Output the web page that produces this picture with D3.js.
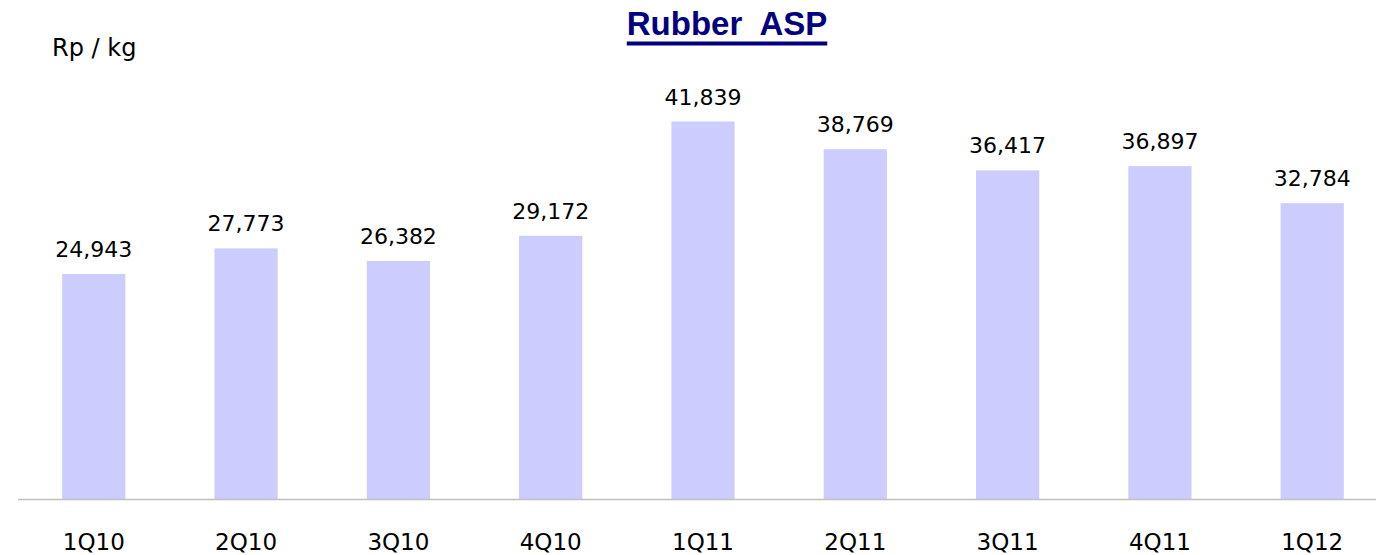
<!DOCTYPE html>
<html>
  <head>
    <script src="https://d3js.org/d3.v7.min.js"></script>
    <style>
      body { margin: 0; background: #fff; }
    </style>
  </head>
  <body>
    <svg width="1376" height="555"></svg>
  </body>
  <script>
    const quarters = ['1Q10', '2Q10', '3Q10', '4Q10', '1Q11', '2Q11', '3Q11', '4Q11', '1Q12'];
    const asp = [24943, 27773, 26382, 29172, 41839, 38769, 36417, 36897, 32784];

    const svg = d3.select('svg');
    const font = '"DejaVu Sans", sans-serif';

    const x = d3.scaleBand()
      .domain(quarters)
      .range([18, 1388])
      .paddingInner(0.585)
      .paddingOuter(0.29);

    const y = d3.scaleLinear()
      .domain([0, 45000])
      .range([499, 93]);

    // bars
    svg.selectAll('rect.bar').data(asp)
      .enter().append('rect')
        .attr('class', 'bar')
        .attr('x', (d, i) => x(quarters[i]))
        .attr('y', d => y(d))
        .attr('width', x.bandwidth())
        .attr('height', d => y(0) - y(d))
        .attr('fill', '#ccccff');

    // value labels
    svg.selectAll('text.val').data(asp)
      .enter().append('text')
        .attr('class', 'val')
        .attr('x', (d, i) => x(quarters[i]) + x.bandwidth() / 2)
        .attr('y', d => y(d) - 17)
        .attr('text-anchor', 'middle')
        .style('font-family', font)
        .style('font-size', '22px')
        .attr('fill', '#000')
        .text(d => d3.format(',')(d));

    // baseline
    svg.append('line')
      .attr('x1', 18).attr('x2', 1376)
      .attr('y1', y(0) + 0.5).attr('y2', y(0) + 0.5)
      .attr('stroke', '#c0c0c0')
      .attr('stroke-width', 1.5);

    // category labels
    const xAxis = d3.axisBottom(x).tickSize(0).tickPadding(0);
    const xg = svg.append('g')
      .attr('transform', `translate(0,${y(0)})`)
      .call(xAxis);
    xg.select('.domain').remove();
    xg.selectAll('text')
      .attr('dy', null)
      .attr('y', 51)
      .style('font-family', font)
      .style('font-size', '23px')
      .attr('fill', '#000');

    // title
    const title = svg.append('text')
      .attr('x', 727)
      .attr('y', 35)
      .attr('text-anchor', 'middle')
      .style('font-family', '"Liberation Sans", Arial, sans-serif')
      .style('font-size', '33px')
      .style('font-weight', 'bold')
      .attr('fill', '#000080')
      .style('white-space', 'pre')
      .text('Rubber  ASP');
    const bb = title.node().getBBox();
    svg.append('rect')
      .attr('x', bb.x)
      .attr('y', 41.5)
      .attr('width', bb.width)
      .attr('height', 4)
      .attr('fill', '#000080');

    // unit label
    svg.append('text')
      .attr('x', 52)
      .attr('y', 56)
      .style('font-family', font)
      .style('font-size', '24px')
      .attr('fill', '#000')
      .text('Rp / kg');
  </script>
</html>
